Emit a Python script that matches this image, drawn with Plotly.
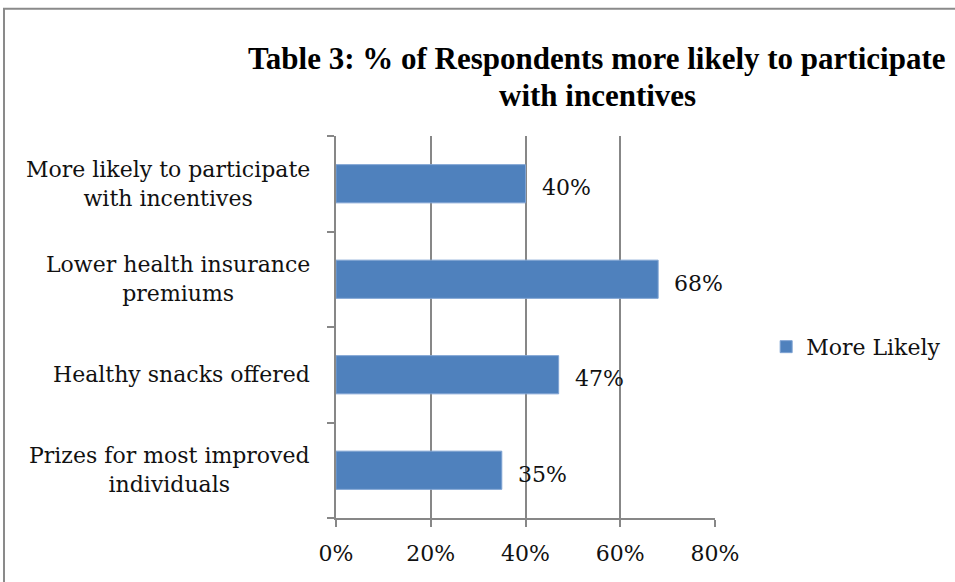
import plotly.graph_objects as go

# Survey results: share of respondents more likely to take part
categories = [
    "More likely to participate<br>with incentives",
    "Lower health insurance<br>premiums",
    "Healthy snacks offered",
    "Prizes for most improved<br>individuals",
]
values = [0.40, 0.68, 0.47, 0.35]
series_name = "More Likely"
x_ticks = [0, 0.2, 0.4, 0.6, 0.8]
x_tick_labels = ["0%", "20%", "40%", "60%", "80%"]
title_lines = ["Table 3: % of Respondents more likely to participate", "with incentives"]

BAR = "#4F81BD"
GRID = "#878787"
FONT = "DejaVu Serif"
TITLE_FONT = "Liberation Serif"
INK = "#111111"

fig = go.Figure()
fig.add_trace(go.Bar(
    y=categories,
    x=values,
    orientation="h",
    name=series_name,
    marker=dict(color=BAR, line=dict(color="#7FA3D3", width=1)),
    showlegend=True,
))

# Value labels placed just right of each bar end
for c, v in zip(categories, values):
    fig.add_annotation(
        x=v, xref="x", y=c, yref="y",
        text=f"{v:.0%}", showarrow=False,
        xanchor="left", xshift=14, yshift=-4,
        font=dict(family=FONT, size=22, color=INK),
    )

# Category labels, centred line by line, to the left of the axis
for c in categories:
    fig.add_annotation(
        x=0, xref="paper", y=c, yref="y",
        text=c, showarrow=False,
        xanchor="right", xshift=-24, align="center",
        font=dict(family=FONT, size=22, color=INK),
    )

# Two-line bold heading with tight line spacing
title_font = dict(family=TITLE_FONT, size=31, color="black", weight="bold")
for line, ypos in zip(title_lines, [1.203, 1.106]):
    fig.add_annotation(
        x=0.689, xref="paper", y=ypos, yref="paper",
        text=line, showarrow=False,
        xanchor="center", yanchor="middle", font=title_font,
    )

# Outer frame of the chart
fig.add_shape(
    type="rect", xref="paper", yref="paper",
    x0=-0.876, x1=2.0, y0=-1.0, y1=1.333,
    line=dict(color="#8A8A8A", width=2), fillcolor="rgba(0,0,0,0)",
    layer="below",
)

fig.update_layout(
    width=955, height=582,
    margin=dict(l=336, r=240, t=136, b=64, autoexpand=False),
    paper_bgcolor="white", plot_bgcolor="white",
    bargap=0.6,
    xaxis=dict(
        range=[0, 0.8], tickvals=x_ticks, ticktext=x_tick_labels,
        showgrid=True, gridcolor=GRID, gridwidth=2,
        showline=True, linecolor=GRID, linewidth=2,
        ticks="outside", ticklen=7, tickcolor=GRID, tickwidth=2,
        ticklabelstandoff=8,
        tickfont=dict(family=FONT, size=22, color=INK),
        zeroline=False,
    ),
    yaxis=dict(
        categoryorder="array", categoryarray=categories[::-1],
        showticklabels=False, tickson="boundaries",
        ticks="outside", ticklen=7, tickcolor=GRID, tickwidth=2,
        showline=True, linecolor=GRID, linewidth=2,
        showgrid=False,
    ),
    legend=dict(
        x=1.135, y=0.448, xanchor="left", yanchor="middle",
        font=dict(family=FONT, size=22, color=INK),
        bgcolor="rgba(0,0,0,0)",
    ),
)

fig.write_html("out.html")
